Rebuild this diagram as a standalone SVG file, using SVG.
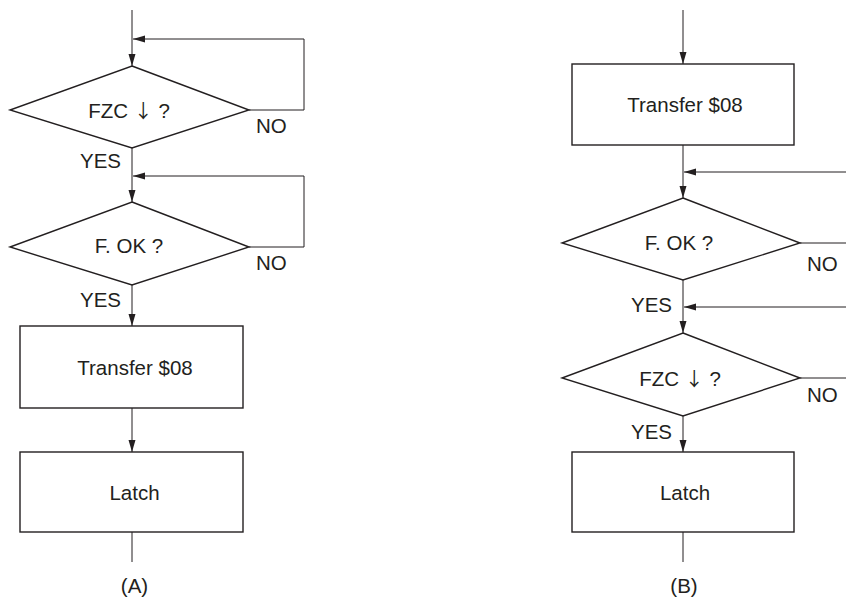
<svg xmlns="http://www.w3.org/2000/svg" width="846" height="599" viewBox="0 0 846 599">
<style>
.shape{fill:#fff;stroke:#231f20;stroke-width:1.4}
.conn{fill:none;stroke:#231f20;stroke-width:1}
text{font-family:"Liberation Sans",Arial,sans-serif;font-size:20.5px;fill:#231f20}
.c{text-anchor:middle}
.r{text-anchor:end}
.ar{font-family:"Noto Sans CJK JP",sans-serif;font-size:19px}
</style>
<defs>
<marker id="ah" markerUnits="userSpaceOnUse" markerWidth="12" markerHeight="8" refX="12" refY="4" orient="auto">
<path d="M0,0.5 L12,4 L0,7.5 Z" fill="#231f20"/>
</marker>
</defs>
<rect width="846" height="599" fill="#fff"/>
<g id="connectors">
<path class="conn" d="M132,10 V66" marker-end="url(#ah)"/>
<path class="conn" d="M249,110 H304 V39 H133" marker-end="url(#ah)"/>
<path class="conn" d="M132,148 V202" marker-end="url(#ah)"/>
<path class="conn" d="M249,247 H304 V176 H133" marker-end="url(#ah)"/>
<path class="conn" d="M132,285 V326" marker-end="url(#ah)"/>
<path class="conn" d="M132,408 V452" marker-end="url(#ah)"/>
<path class="conn" d="M132,532 V562"/>
<path class="conn" d="M683,10 V64" marker-end="url(#ah)"/>
<path class="conn" d="M683,145 V198" marker-end="url(#ah)"/>
<path class="conn" d="M846,172 H684" marker-end="url(#ah)"/>
<path class="conn" d="M800,243 H846"/>
<path class="conn" d="M683,280 V333" marker-end="url(#ah)"/>
<path class="conn" d="M846,307 H684" marker-end="url(#ah)"/>
<path class="conn" d="M800,378 H846"/>
<path class="conn" d="M683,416 V452" marker-end="url(#ah)"/>
<path class="conn" d="M683,532 V562"/>
</g>
<g id="a-fzc">
<polygon class="shape" points="132,66 249,110 132,148 10,110"/>
<text class="c" x="129" y="118">FZC <tspan class="ar">↓</tspan> ?</text>
</g>
<g id="a-fzc-labels">
<text x="256" y="133">NO</text>
<text x="80" y="168">YES</text>
</g>
<g id="a-fok">
<polygon class="shape" points="132,202 249,247 132,285 10,247"/>
<text class="c" x="129" y="253">F. OK ?</text>
</g>
<g id="a-fok-labels">
<text x="256" y="270">NO</text>
<text x="80" y="307">YES</text>
</g>
<g id="a-transfer">
<rect class="shape" x="20" y="326" width="223" height="82"/>
<text class="c" x="135" y="375">Transfer $08</text>
</g>
<g id="a-latch">
<rect class="shape" x="20" y="452" width="223" height="80"/>
<text class="c" x="134.5" y="500">Latch</text>
</g>
<text class="c" x="134.5" y="593">(A)</text>
<g id="b-transfer">
<rect class="shape" x="572" y="64" width="222" height="81"/>
<text class="c" x="685" y="112">Transfer $08</text>
</g>
<g id="b-fok">
<polygon class="shape" points="683,198 800,243 683,280 562,243"/>
<text class="c" x="679" y="250">F. OK ?</text>
</g>
<g id="b-fok-labels">
<text x="807" y="271">NO</text>
<text class="r" x="672" y="312">YES</text>
</g>
<g id="b-fzc">
<polygon class="shape" points="683,333 800,378 683,416 562,378"/>
<text class="c" x="680" y="386">FZC <tspan class="ar">↓</tspan> ?</text>
</g>
<g id="b-fzc-labels">
<text x="807" y="402">NO</text>
<text class="r" x="672" y="439">YES</text>
</g>
<g id="b-latch">
<rect class="shape" x="572" y="452" width="222" height="80"/>
<text class="c" x="685" y="500">Latch</text>
</g>
<text class="c" x="684" y="593">(B)</text>
</svg>
